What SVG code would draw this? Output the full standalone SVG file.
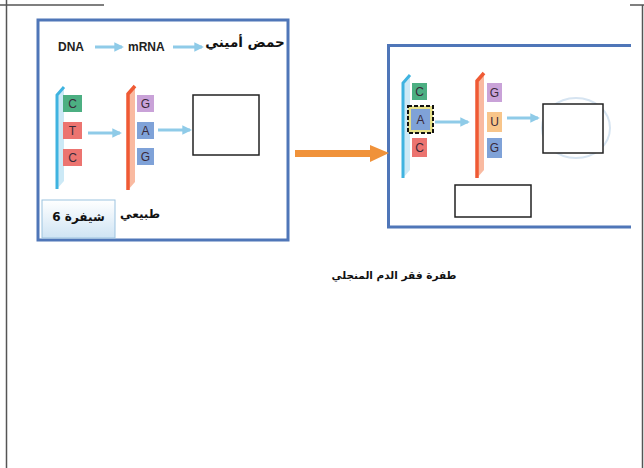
<svg xmlns="http://www.w3.org/2000/svg" width="644" height="468" viewBox="0 0 644 468">
<defs>
<style>
.frame{stroke:#555;stroke-width:1.5;fill:none}
.panel{fill:#fff;stroke:#4f76b8;stroke-width:3}
.lbl{font-family:"Liberation Sans","DejaVu Sans",sans-serif;font-size:12px;fill:#222;font-weight:bold}
.ar{font-family:"DejaVu Sans",sans-serif;font-weight:bold;fill:#111}
.base{font-family:"Liberation Sans","DejaVu Sans",sans-serif;font-size:12px;fill:#3a2a3a;text-anchor:middle}
.blank{fill:#fff;stroke:#222;stroke-width:1.5}
.la{stroke:#8fcbe8;stroke-width:3;fill:none;marker-end:url(#lb)}
.dna{stroke:#3fb3e0;stroke-width:3;fill:none}
.dnas{fill:#bfe3f4;opacity:.8}
.rna{stroke:#ef5a34;stroke-width:3.5;fill:none}
.rnas{fill:#f7a98a;opacity:.8}
</style>
<marker id="lb" viewBox="0 0 10 10" refX="8" refY="5" markerWidth="3.2" markerHeight="3.2" orient="auto"><path d="M0,0 L10,5 L0,10 z" fill="#8fcbe8"/></marker>
<linearGradient id="lg" x1="0" y1="0" x2="0" y2="1"><stop offset="0" stop-color="#ffffff"/><stop offset="1" stop-color="#cfe4f4"/></linearGradient>
</defs>

<g id="page-frame">
<line class="frame" x1="0" y1="5" x2="104" y2="5"/>
<line class="frame" x1="6.5" y1="0" x2="6.5" y2="468"/>
<line class="frame" x1="630" y1="5" x2="644" y2="5"/>
<line class="frame" x1="642.5" y1="5" x2="642.5" y2="468"/>
</g>

<g id="panel-normal">
<rect class="panel" x="38" y="20" width="250" height="220"/>
<text class="lbl" x="58" y="51">DNA</text>
<text class="lbl" x="128" y="51">mRNA</text>
<text class="ar" x="245" y="47" font-size="13.5" text-anchor="middle" direction="rtl">حمض أميني</text>
<g id="dna-strand-1">
<polygon class="dnas" points="57,95 64,88 64,181 57,189"/>
<path class="dna" d="M57,189 L57,95 L64,87"/>
<rect x="63" y="95" width="19" height="17" fill="#4caf82"/>
<text class="base" x="72.5" y="108">C</text>
<rect x="63" y="122" width="19" height="17" fill="#ec7470"/>
<text class="base" x="72.5" y="135">T</text>
<rect x="63" y="149" width="19" height="17" fill="#ec7470"/>
<text class="base" x="72.5" y="162">C</text>
</g>
<g id="rna-strand-1">
<polygon class="rnas" points="128,94 135,86 135,182 128,190"/>
<path class="rna" d="M128,190 L128,94 L135,86"/>
<rect x="137" y="95" width="17" height="17" fill="#c9a2d8"/>
<text class="base" x="145.5" y="108">G</text>
<rect x="137" y="122" width="17" height="17" fill="#7fa2d8"/>
<text class="base" x="145.5" y="135">A</text>
<rect x="137" y="148" width="17" height="17" fill="#7fa2d8"/>
<text class="base" x="145.5" y="161">G</text>
</g>
<rect id="blank-1" class="blank" x="193" y="95" width="66" height="60"/>
<rect id="code-6" x="42" y="200" width="73" height="38" fill="url(#lg)" stroke="#9cc3e0" stroke-width="1"/>
<text class="ar" x="78.5" y="221" font-size="12" text-anchor="middle" direction="rtl">شيفرة 6</text>
<text class="ar" x="140" y="218" font-size="12" text-anchor="middle" direction="rtl">طبيعي</text>
</g>

<g id="panel-mutation">
<path d="M631,45.5 L388.5,45.5 L388.5,227 L631,227" fill="#fff" stroke="#4f76b8" stroke-width="3"/>
<g id="dna-strand-2">
<polygon class="dnas" points="403,83 410,75 410,170 403,178"/>
<path class="dna" d="M403,178 L403,83 L410,75"/>
<rect x="412" y="83" width="15" height="17" fill="#4caf82"/>
<text class="base" x="419.5" y="96">C</text>
<rect x="408" y="106" width="25" height="27" fill="#e6e08a"/>
<rect x="411" y="109" width="19" height="21" fill="#7fa2d8"/>
<rect x="408" y="106" width="25" height="27" fill="none" stroke="#111" stroke-width="2" stroke-dasharray="4,2"/>
<text class="base" x="420.5" y="124">A</text>
<rect x="412" y="138" width="15" height="19" fill="#ec7470"/>
<text class="base" x="419.5" y="152">C</text>
</g>
<g id="rna-strand-2">
<polygon class="rnas" points="477,81 484,73 484,170 477,178"/>
<path class="rna" d="M477,178 L477,81 L484,73"/>
<rect x="487" y="83" width="15" height="19" fill="#c9a2d8"/>
<text class="base" x="494.5" y="97">G</text>
<rect x="487" y="112" width="15" height="20" fill="#f8c58a"/>
<text class="base" x="494.5" y="126">U</text>
<rect x="487" y="138" width="15" height="20" fill="#7fa2d8"/>
<text class="base" x="494.5" y="152">G</text>
</g>
<ellipse cx="576" cy="128" rx="34" ry="30" fill="none" stroke="#d6e4f1" stroke-width="2"/>
<rect id="blank-2" class="blank" x="543" y="104" width="60" height="49"/>
<rect id="blank-3" class="blank" x="455" y="185" width="76" height="32"/>
</g>

<g id="connectors">
<line class="la" x1="95" y1="47" x2="122" y2="47"/>
<line class="la" x1="173" y1="47" x2="202" y2="47"/>
<line class="la" x1="88" y1="133" x2="120" y2="133"/>
<line class="la" x1="158" y1="130" x2="190" y2="130"/>
<line class="la" x1="435" y1="122" x2="468" y2="122"/>
<line class="la" x1="507" y1="118" x2="538" y2="118"/>
<path d="M295,150 L370,150 L370,145 L389,153 L370,162 L370,157 L295,157 Z" fill="#f0923a"/>
</g>

<text id="caption" class="ar" x="394" y="279" font-size="10.5" text-anchor="middle" direction="rtl">طفرة فقر الدم المنجلي</text>
</svg>
